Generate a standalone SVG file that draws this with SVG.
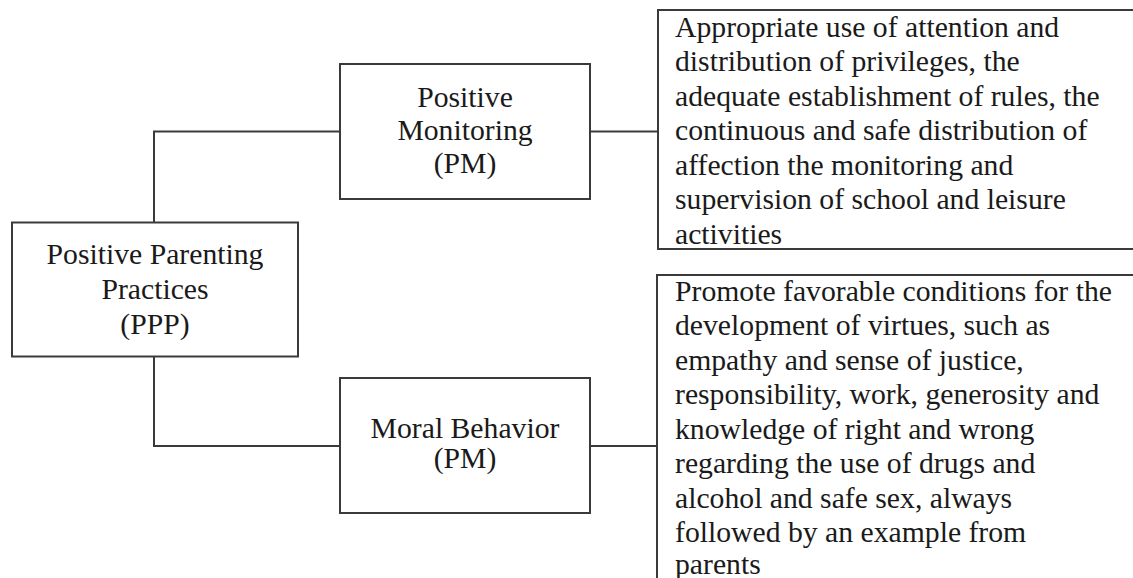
<svg xmlns="http://www.w3.org/2000/svg" width="1133" height="578" viewBox="0 0 1133 578">
<style>
.box{fill:#fff;stroke:#3a3a3a;stroke-width:2}
.ln{fill:none;stroke:#3a3a3a;stroke-width:2}
text{font-family:"Liberation Serif","Times New Roman",serif;font-size:29.7px;fill:#1a1a1a}
.c{text-anchor:middle}
</style>
<rect width="1133" height="578" fill="#fff"/>
<g id="connectors">
<polyline class="ln" points="340,131.5 154,131.5 154,222"/>
<polyline class="ln" points="154,357 154,446 340,446"/>
<line class="ln" x1="590" y1="131.5" x2="658" y2="131.5"/>
<line class="ln" x1="590" y1="446" x2="657" y2="446"/>
</g>
<g id="ppp">
<rect class="box" x="12" y="222.5" width="286" height="134"/>
<text class="c" x="155" y="264">Positive Parenting</text>
<text class="c" x="155" y="299">Practices</text>
<text class="c" x="155" y="334">(PPP)</text>
</g>
<g id="pm">
<rect class="box" x="340" y="64" width="250" height="135"/>
<text class="c" x="465" y="107">Positive</text>
<text class="c" x="465" y="140">Monitoring</text>
<text class="c" x="465" y="173">(PM)</text>
</g>
<g id="mb">
<rect class="box" x="340" y="378" width="250" height="135"/>
<text class="c" x="465" y="438">Moral Behavior</text>
<text class="c" x="465" y="468">(PM)</text>
</g>
<g id="pm-desc">
<rect class="box" x="658" y="10" width="480" height="239"/>
<text x="675" y="36.5">Appropriate use of attention and</text>
<text x="675" y="71">distribution of privileges, the</text>
<text x="675" y="105.5">adequate establishment of rules, the</text>
<text x="675" y="140">continuous and safe distribution of</text>
<text x="675" y="174.5">affection the monitoring and</text>
<text x="675" y="209">supervision of school and leisure</text>
<text x="675" y="243.5">activities</text>
</g>
<g id="mb-desc">
<rect class="box" x="657" y="275" width="481" height="320"/>
<text x="675" y="300.5">Promote favorable conditions for the</text>
<text x="675" y="335">development of virtues, such as</text>
<text x="675" y="369.5">empathy and sense of justice,</text>
<text x="675" y="404">responsibility, work, generosity and</text>
<text x="675" y="438.5">knowledge of right and wrong</text>
<text x="675" y="473">regarding the use of drugs and</text>
<text x="675" y="507.5">alcohol and safe sex, always</text>
<text x="675" y="542">followed by an example from</text>
<text x="675" y="574">parents</text>
</g>
</svg>
